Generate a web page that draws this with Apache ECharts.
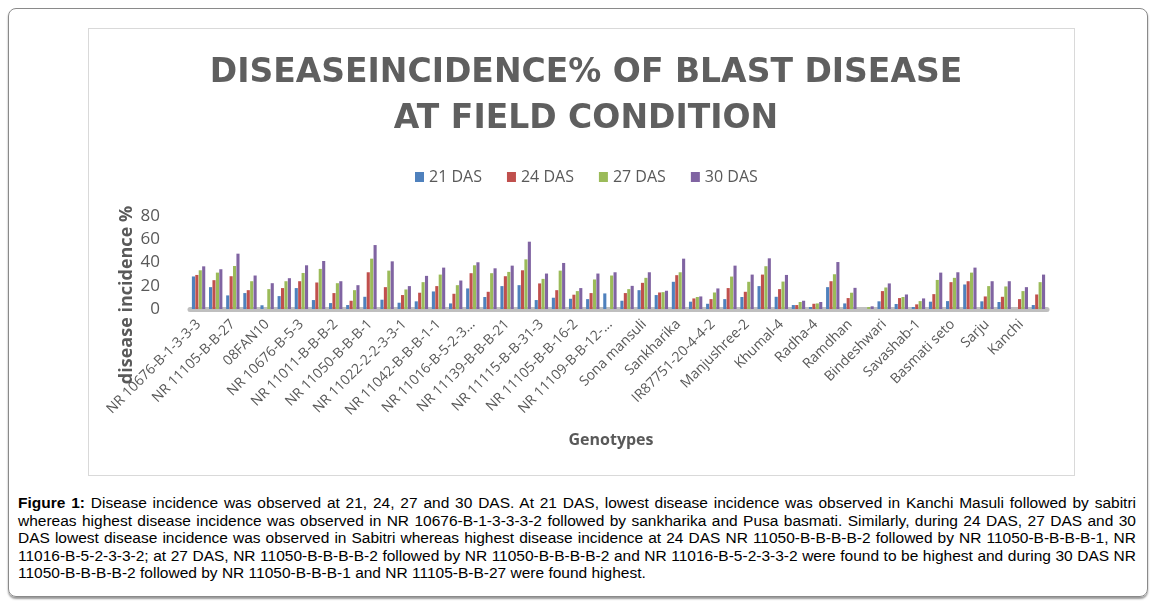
<!DOCTYPE html>
<html>
<head>
<meta charset="utf-8">
<script src="https://cdn.jsdelivr.net/npm/echarts@6/dist/echarts.min.js"></script>
<style>
  html, body { margin: 0; padding: 0; background: #fff; }
  #frame { position: absolute; left: 8px; top: 8px; width: 1138px; height: 587px;
           border: 1px solid #8a8a8a; border-radius: 8px; box-shadow: 0 2px 2px #999; }
  #box { position: absolute; left: 88px; top: 28px; width: 985px; height: 446px; border: 1px solid #d9d9d9; }
  #chart { position: absolute; left: 0; top: 0; width: 1155px; height: 480px; }
  #caption { position: absolute; left: 18px; top: 494px; width: 1118px;
             font-family: "Liberation Sans", Arial, sans-serif; font-size: 15.5px; line-height: 17.5px; color: #000; }
  #caption div { text-align: justify; text-align-last: justify; white-space: nowrap; }
  #caption div.last { text-align-last: left; }
</style>
</head>
<body>
<div id="frame"></div>
<div id="box"></div>
<div id="chart"></div>
<div id="caption">
  <div><b>Figure 1:</b> Disease incidence was observed at 21, 24, 27 and 30 DAS. At 21 DAS, lowest disease incidence was observed in Kanchi Masuli followed by sabitri</div>
  <div>whereas highest disease incidence was observed in NR 10676-B-1-3-3-3-2 followed by sankharika and Pusa basmati. Similarly, during 24 DAS, 27 DAS and 30</div>
  <div>DAS lowest disease incidence was observed in Sabitri whereas highest disease incidence at 24 DAS NR 11050-B-B-B-B-2 followed by NR 11050-B-B-B-B-1, NR</div>
  <div>11016-B-5-2-3-3-2; at 27 DAS, NR 11050-B-B-B-B-2 followed by NR 11050-B-B-B-B-2 and NR 11016-B-5-2-3-3-2 were found to be highest and during 30 DAS NR</div>
  <div class="last">11050-B-B-B-B-2 followed by NR 11050-B-B-B-1 and NR 11105-B-B-27 were found highest.</div>
</div>
<script>
// genotypes (every other one is labelled on the axis)
var genotypes = [
  'NR 10676-B-1-3-3-3', 'Pusa basmati', 'NR 11105-B-B-27', 'NR 11105-B-B-28',
  '08FAN10', 'Hardinath-1', 'NR 10676-B-5-3', 'NR 10676-B-5-4',
  'NR 11011-B-B-B-2', 'NR 11011-B-B-B-3', 'NR 11050-B-B-B-1', 'NR 11050-B-B-B-2',
  'NR 11022-2-2-3-3-1', 'NR 11022-2-2-3-3-2', 'NR 11042-B-B-B-1-1', 'NR 11042-B-B-B-1-2',
  'NR 11016-B-5-2-3-3-2', 'NR 11050-B-B-B-B-1', 'NR 11139-B-B-B-21', 'NR 11050-B-B-B-B-2',
  'NR 11115-B-B-31-3', 'NR 11115-B-B-31-4', 'NR 11105-B-B-16-2', 'NR 11105-B-B-16-3',
  'NR 11109-B-B-12-1-1', 'NR 11109-B-B-12-2', 'Sona mansuli', 'Mansuli',
  'Sankharika', 'Jethobudho', 'IR87751-20-4-4-2', 'IR87751-20-4-4-3',
  'Manjushree-2', 'Chaite-2', 'Khumal-4', 'Khumal-10',
  'Radha-4', 'Radha-9', 'Ramdhan', 'Sabitri',
  'Bindeshwari', 'Tilki', 'Savashab-1', 'Lalka basmati',
  'Basmati seto', 'Pokhreli masino', 'Sarju', 'Taichung',
  'Kanchi', 'Kanchi Masuli'
];

var das21 = [28.0, 18.8, 11.7, 13.7, 3.2, 11.1, 18.0, 7.7, 5.1, 3.4,
  10.5, 8.0, 5.4, 6.6, 15.1, 4.8, 17.7, 10.3, 19.7, 20.5,
  7.7, 9.7, 8.8, 8.5, 13.4, 7.1, 16.2, 12.0, 23.4, 6.3,
  4.5, 8.5, 10.3, 19.7, 10.5, 3.4, 1.7, 18.8, 4.8, 0,
  6.6, 4.3, 1.7, 6.3, 6.8, 21.1, 6.6, 6.0, 0, 3.4];

var das24 = [29.3, 24.8, 28.2, 16.2, 0, 18.0, 23.9, 22.8, 13.7, 7.1,
  31.6, 18.8, 12.0, 14.0, 19.7, 13.1, 30.8, 14.8, 28.2, 33.3,
  22.0, 16.2, 12.3, 13.7, 0, 13.7, 22.5, 14.2, 29.1, 9.1,
  8.5, 18.0, 14.8, 29.6, 17.1, 3.4, 4.5, 23.9, 9.4, 0,
  15.4, 9.4, 4.0, 12.8, 23.1, 23.9, 10.8, 10.5, 8.5, 12.5];

var das27 = [33.3, 31.3, 37.0, 23.9, 17.1, 23.9, 31.0, 34.5, 22.2, 16.2,
  43.3, 33.0, 16.8, 23.1, 29.6, 20.5, 37.6, 30.8, 31.9, 42.7,
  25.9, 33.0, 15.4, 25.4, 28.8, 17.1, 26.8, 14.5, 31.6, 10.3,
  14.2, 27.9, 23.4, 36.8, 23.6, 6.0, 4.8, 29.9, 14.0, 1.7,
  18.5, 10.3, 6.8, 25.0, 26.8, 31.3, 19.7, 19.4, 15.4, 23.1];

var das30 = [36.7, 34.2, 47.6, 28.8, 22.2, 26.5, 37.6, 41.3, 23.9, 20.5,
  55.0, 41.0, 19.7, 28.5, 35.6, 24.5, 40.2, 35.0, 37.3, 57.9,
  30.5, 39.6, 18.0, 30.5, 31.6, 19.9, 31.6, 15.7, 43.3, 10.8,
  17.7, 37.3, 29.6, 43.6, 29.3, 7.1, 6.0, 40.4, 18.2, 2.3,
  22.0, 12.5, 9.1, 31.3, 31.6, 35.6, 23.9, 23.9, 18.8, 29.6];

var seriesNames = ['21 DAS', '24 DAS', '27 DAS', '30 DAS'];
var seriesData = [das21, das24, das27, das30];

var chart = echarts.init(document.getElementById('chart'));

var series = [];
for (var i = 0; i < seriesNames.length; i++) {
  series.push({
    name: seriesNames[i],
    type: 'bar',
    barGap: '10%',
    barCategoryGap: '22%',
    data: seriesData[i]
  });
}

var option = {
  color: ['#4F81BD', '#C0504D', '#9BBB59', '#8064A2'],
  animation: false,
  title: {
    text: 'DISEASEINCIDENCE% OF BLAST DISEASE\nAT FIELD CONDITION',
    left: 581,
    top: 45,
    textAlign: 'center',
    textStyle: {
      fontFamily: 'DejaVu Sans',
      fontWeight: 'bold',
      fontSize: 33,
      lineHeight: 46,
      color: '#5f5f5f'
    }
  },
  legend: {
    data: seriesNames,
    left: 410,
    top: 164,
    itemWidth: 9,
    itemHeight: 10,
    itemGap: 25,
    icon: 'rect',
    textStyle: { fontFamily: 'Open Sans', fontSize: 16, color: '#595959' }
  },
  grid: {
    left: 190,
    right: 108,
    top: 216,
    bottom: 171
  },
  xAxis: {
    type: 'category',
    data: genotypes,
    axisTick: { show: false },
    axisLine: { lineStyle: { color: '#bfbfbf', width: 5 } },
    axisLabel: {
      interval: 1,
      rotate: 45,
      margin: 13,
      fontFamily: 'Open Sans',
      fontSize: 14,
      color: '#595959',
      width: 131,
      overflow: 'truncate'
    }
  },
  yAxis: {
    type: 'value',
    min: 0,
    max: 80,
    interval: 20,
    splitLine: { show: false },
    axisLine: { show: false },
    axisTick: { show: false },
    axisLabel: { margin: 30, fontFamily: 'Open Sans', fontSize: 17, color: '#595959' }
  },
  graphic: [
    {
      type: 'text',
      x: 127,
      y: 295,
      rotation: Math.PI / 2,
      style: {
        text: 'disease incidence %',
        fontFamily: 'Open Sans',
        fontWeight: 'bold',
        fontSize: 18,
        fill: '#595959',
        textAlign: 'center',
        textVerticalAlign: 'middle'
      }
    },
    {
      type: 'text',
      x: 611,
      y: 440,
      style: {
        text: 'Genotypes',
        fontFamily: 'Open Sans',
        fontWeight: 'bold',
        fontSize: 16,
        fill: '#595959',
        textAlign: 'center',
        textVerticalAlign: 'middle'
      }
    }
  ],
  series: series
};

chart.setOption(option);
</script>
</body>
</html>
